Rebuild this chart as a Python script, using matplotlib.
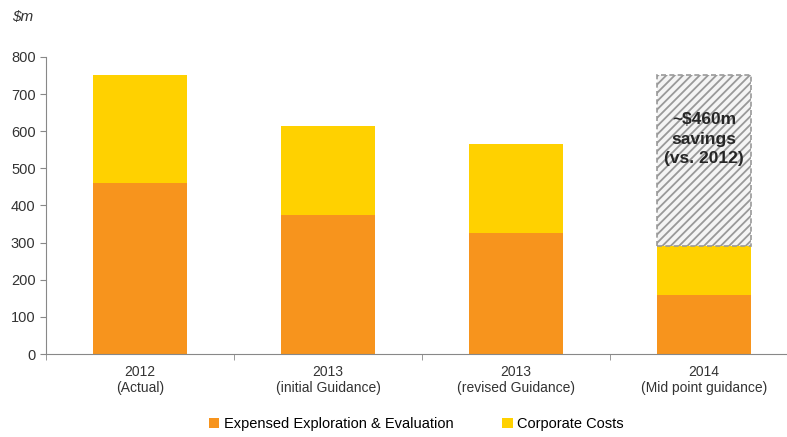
import matplotlib.pyplot as plt
import matplotlib as mpl

plt.rcParams['font.family'] = ['Liberation Sans', 'DejaVu Sans']
mpl.rcParams['hatch.color'] = '#c2c2c2'
mpl.rcParams['hatch.linewidth'] = 1.3

categories = ["2012\n(Actual)", "2013\n(initial Guidance)",
              "2013\n(revised Guidance)", "2014\n(Mid point guidance)"]
exploration = [460, 375, 325, 160]
corporate = [292, 240, 240, 130]
savings = [0, 0, 0, 462]

orange = '#F7941D'
yellow = '#FFD100'

fig = plt.figure(figsize=(7.87, 4.37), dpi=100)
ax = fig.add_axes([46 / 787, 83 / 437, 752 / 787, 297 / 437])

x = list(range(len(categories)))
ax.bar(x, exploration, width=0.5, color=orange, label='Expensed Exploration & Evaluation')
ax.bar(x, corporate, width=0.5, bottom=exploration, color=yellow, label='Corporate Costs')
tops = [e + c for e, c in zip(exploration, corporate)]
ax.bar(x[3], savings[3], width=0.5, bottom=tops[3], facecolor='#f4f4f4',
       edgecolor='#999999', hatch='////', linestyle=(0, (3, 2)), linewidth=1.2)
ax.text(x[3], 578, "~$460m\nsavings\n(vs. 2012)",
        ha='center', va='center', fontsize=12.5, fontweight='bold', color='#262626',
        linespacing=1.38)

ax.set_xlim(-0.5, 3.5)
ax.set_ylim(0, 800)
ax.set_yticks(range(0, 801, 100))
ax.set_xticks(x)
ax.set_xticklabels(categories, fontsize=10, color='#333333')
ax.set_xticks([i + 0.5 for i in range(-1, 4)], minor=True)
ax.tick_params(axis='x', which='major', length=0, pad=8)
ax.tick_params(axis='x', which='minor', length=4, color='#888888')
ax.tick_params(axis='y', length=4, color='#888888', labelsize=10.5, labelcolor='#333333')
for s in ['top', 'right']:
    ax.spines[s].set_visible(False)
for s in ['left', 'bottom']:
    ax.spines[s].set_color('#888888')

fig.text(12 / 787, 1 - 17 / 437, "$m", fontsize=11, fontstyle='italic',
         color='#333333', ha='left', va='center')

fig.legend(loc='center', bbox_to_anchor=(416 / 787, 1 - 424 / 437), ncol=2,
           frameon=False, fontsize=10.5, handlelength=0.75, handleheight=0.75,
           handletextpad=0.3, columnspacing=3.3)

fig.savefig('out.png', dpi=100)
